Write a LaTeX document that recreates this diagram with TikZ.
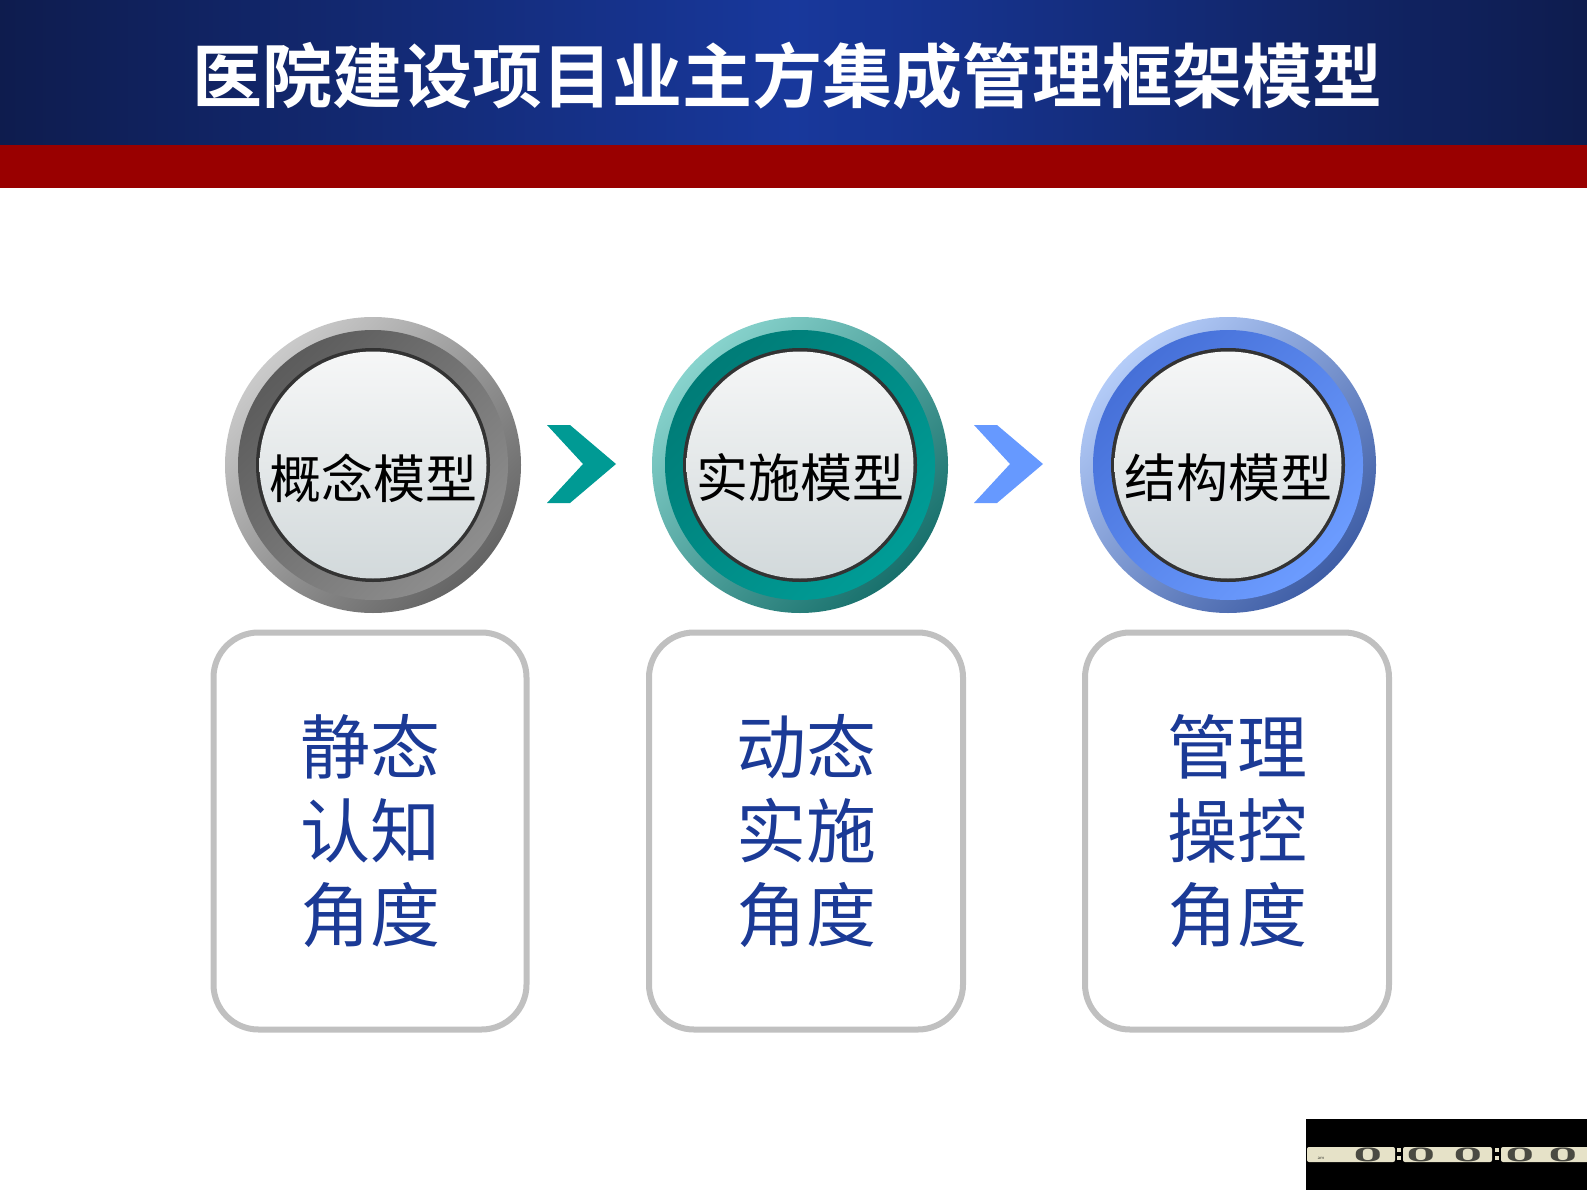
\documentclass[tikz,border=0pt]{standalone}
\usepackage{fontspec}
\newfontfamily\cjk[BoldFont={Noto Sans CJK SC Bold}]{Noto Sans CJK SC}
\definecolor{hdrNavy}{HTML}{0E1C4E}
\definecolor{hdrBlue}{HTML}{18389C}
\definecolor{hdrRed}{HTML}{990000}
\definecolor{GrayLt}{HTML}{CACACA}
\definecolor{GrayDk}{HTML}{646464}
\definecolor{GrayBandDk}{HTML}{5C5C5C}
\definecolor{GrayBandLt}{HTML}{8E8E8E}
\definecolor{TealLt}{HTML}{88D3CD}
\definecolor{TealDk}{HTML}{18706C}
\definecolor{TealBandDk}{HTML}{007C77}
\definecolor{TealBandLt}{HTML}{009C96}
\definecolor{BlueLt}{HTML}{B4CCF8}
\definecolor{BlueDk}{HTML}{3F5EA6}
\definecolor{BlueBandDk}{HTML}{4670D8}
\definecolor{BlueBandLt}{HTML}{6C9CFF}
\definecolor{chevTeal}{HTML}{009A94}
\definecolor{chevBlue}{HTML}{6699FF}
\definecolor{discTop}{HTML}{F6F7F7}
\definecolor{discBot}{HTML}{D2D9DB}
\definecolor{boxGray}{HTML}{C0C0C0}
\definecolor{boxText}{HTML}{1B3A96}
\definecolor{clockCream}{HTML}{E6E2C8}
\definecolor{clockDigit}{HTML}{4A4A42}
\usepackage{tikz}
\usetikzlibrary{calc}

\begin{document}
\begin{tikzpicture}[x=1pt,y=-1pt,
		angle/.style={rounded corners=45, draw=boxGray, line width=6, fill=white, inner sep=0pt,
			minimum height=397, align=center, text=boxText, font=\cjk\fontsize{70}{84}\selectfont},
		digit/.style={text=clockDigit, inner sep=0pt, font=\sffamily\bfseries\fontsize{20}{20}\selectfont}]
	\useasboundingbox (0,0) rectangle (1587,1190);
		% header
		\shade[left color=hdrNavy, right color=hdrNavy, middle color=hdrBlue] (0,0) rectangle (1587,145);
		\fill[hdrRed] (0,145) rectangle (1587,188);
		\node[text=white, font=\cjk\bfseries\fontsize{70}{72}\selectfont] (title) at (787,76) {医院建设项目业主方集成管理框架模型};
		% three models
		\foreach \x /\alph/\name/\c in {
			373/c1/概念模型/Gray,
			800/c2/实施模型/Teal,
			1228/c3/结构模型/Blue}{
			\shade[top color=\c Lt, bottom color=\c Dk, shading angle=45] (\x,465) circle (148);
			\shade[top color=\c BandDk, bottom color=\c BandLt, shading angle=45] (\x,465) circle (135);
			\fill[black!80] (\x,465) circle (117);
			\shade[top color=discTop, bottom color=discBot] (\x,465) circle (113.5);
		% 	\draw[white!60] (\x,465) circle (106);
			\node[inner sep=0pt, font=\cjk\fontsize{52}{52}\selectfont] (\alph) at (\x,478) {\name};
		 }
		 \foreach \x /\c in {547/chevTeal, 974/chevBlue}
		 {\fill[\c] (\x,425) -- ++(23,0) -- ++(46,39) -- ++(-46,39) -- ++(-23,0) -- ++(36,-39) -- cycle;}
		% viewpoints
		\foreach \x /\w/\alph/\name in {
			370/313/b1/{静态\\认知\\角度},
			806/314/b2/{动态\\实施\\角度},
			1237/304/b3/{管理\\操控\\角度}}{
			\node[angle, minimum width=\w] (\alph) at (\x,831) {\name};
		 }
		% clock
		\fill[black] (1306,1119) rectangle (1587,1190);
		\foreach \l/\r/\alph in {1307/1395/k1, 1403/1492/k2, 1501/1590/k3}
		 {\fill[clockCream, rounded corners=2] (\l,1147) rectangle (\r,1162);}
		\foreach \x in {1399, 1497}
		 {\fill[clockCream] (\x-2,1148) rectangle (\x+2,1152);
		  \fill[clockCream] (\x-2,1156) rectangle (\x+2,1160);}
		\node[text=clockDigit, font=\sffamily\fontsize{5}{5}\selectfont] (am) at (1321,1158) {am};
		\foreach \x /\alph in {1368/d1, 1421/d2, 1468/d3, 1520/d4, 1563/d5}
		 {\node[digit] (\alph) at (\x,1154.5) {\scalebox{2.6}[0.95]{0}};}
\end{tikzpicture}
\end{document}
